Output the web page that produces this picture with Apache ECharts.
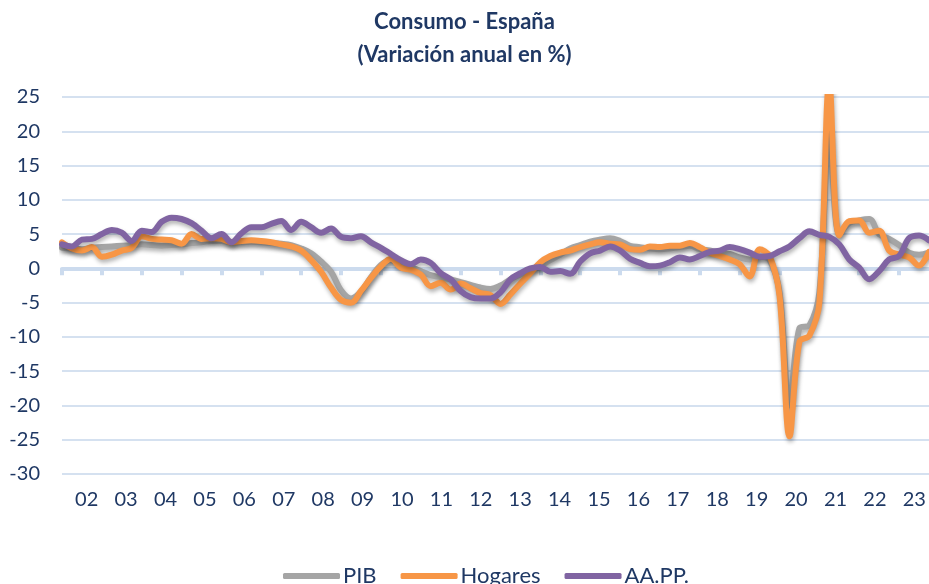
<!DOCTYPE html>
<html>
<head>
<meta charset="utf-8">
<script src="https://cdn.jsdelivr.net/npm/echarts@6/dist/echarts.min.js"></script>
<style>
html,body{margin:0;padding:0;background:#fff;}
#chart{width:929px;height:584px;}
</style>
</head>
<body>
<div id="chart"></div>
<script>
// Tick labels (years) and quarterly categories
const yearLabels = ['02','03','04','05','06','07','08','09','10','11','12','13','14','15','16','17','18','19','20','21','22','23'];
const quarterSuffixes = ['T1','T2','T3','T4'];

// Consumo final - PIB (total)
const pib = [
  3.0, 2.9, 2.8, 3.0, 3.1, 3.2, 3.3, 3.4, 3.5, 3.4, 3.3, 3.4, 3.5, 3.7, 3.8, 4.0,
  4.0, 3.8, 3.8, 3.9, 3.8, 3.7, 3.6, 3.4, 2.9, 2.2, 1.0, -0.5, -3.2, -4.4, -3.4, -1.3,
  0.5, 1.2, 0.6, 0.2, -0.4, -1.0, -1.3, -1.6, -2.0, -2.4, -2.8, -3.0, -2.5, -1.6, -0.9, -0.2,
  0.4, 1.2, 2.0, 2.9, 3.4, 3.9, 4.2, 4.4, 4.0, 3.3, 3.1, 2.9, 2.8, 2.9, 3.1, 3.3,
  2.8, 2.6, 2.3, 2.1, 1.6, 1.3, 1.7, 1.2, -3.5, -20.0, -8.7, -8.3, -3.5, 20.0, 5.0, 6.6,
  7.0, 7.2, 5.0, 4.3, 3.4, 2.3, 2.0, 2.3
];

// Consumo de los hogares
const hogares = [
  3.8, 2.9, 2.6, 3.1, 1.7, 2.0, 2.6, 3.0, 4.7, 4.3, 4.2, 4.1, 3.6, 5.0, 4.3, 4.4,
  4.3, 3.8, 4.0, 4.1, 4.0, 3.8, 3.5, 3.2, 2.6, 1.2, -0.5, -2.8, -4.6, -5.0, -3.3, -1.4,
  0.3, 1.4, 0.1, -0.2, -0.9, -2.6, -2.1, -3.1, -2.2, -2.9, -3.6, -3.9, -5.2, -3.8, -2.2, -0.7,
  0.9, 1.8, 2.3, 2.6, 3.1, 3.5, 3.8, 3.6, 3.5, 2.8, 2.7, 3.2, 3.1, 3.3, 3.3, 3.7,
  3.1, 2.3, 1.8, 1.3, 0.6, -1.2, 2.8, 1.8, -4.0, -24.5, -10.7, -9.8, -5.0, 27.0, 4.8, 6.9,
  7.0, 5.2, 5.5, 2.6, 2.0, 1.6, 0.4, 2.4
];

// Consumo de las AA.PP.
const aapp = [
  3.5, 3.2, 4.2, 4.3, 5.0, 5.6, 5.2, 4.0, 5.5, 5.3, 6.8, 7.4, 7.2, 6.6, 5.5, 4.4,
  5.0, 3.8, 5.1, 6.0, 6.0, 6.5, 6.9, 5.6, 6.8, 6.0, 5.2, 5.8, 4.6, 4.4, 4.7, 3.8,
  3.0, 2.1, 1.2, 0.6, 1.3, 0.8, -0.7, -1.6, -3.3, -4.2, -4.4, -4.4, -3.5, -1.6, -0.7, 0.0,
  0.2, -0.5, -0.4, -0.8, 1.0, 2.2, 2.6, 3.2, 2.6, 1.4, 0.8, 0.3, 0.4, 0.9, 1.6, 1.3,
  1.8, 2.4, 2.6, 3.1, 2.8, 2.3, 1.7, 1.8, 2.5, 3.2, 4.4, 5.4, 4.9, 4.6, 3.5, 1.3,
  0.1, -1.6, -0.4, 1.3, 1.8, 4.4, 4.8, 4.1
];

const quarters = [];
yearLabels.forEach(y => quarterSuffixes.forEach(q => quarters.push(y + q)));

const textColor = '#1F3864';
const fontFam = 'Lato, "Noto Sans", sans-serif';
const gridColor = '#D5E1F0';

const chart = echarts.init(document.getElementById('chart'), null, {renderer: 'canvas'});

function lineSeries(name, data, color) {
  return {
    name: name,
    type: 'line',
    xAxisIndex: 0,
    data: data,
    showSymbol: false,
    symbol: 'none',
    smooth: 0.35,
    clip: true,
    lineStyle: {
      color: color,
      width: 6,
      cap: 'round',
      join: 'round',
      shadowColor: 'rgba(0,0,0,0.30)',
      shadowBlur: 4,
      shadowOffsetX: 1,
      shadowOffsetY: 3
    },
    itemStyle: {color: color},
    emphasis: {disabled: true}
  };
}

chart.setOption({
  animation: false,
  backgroundColor: '#ffffff',
  title: {
    text: 'Consumo - España\n(Variación anual en %)',
    left: 'center',
    top: 0,
    textStyle: {
      color: textColor,
      fontFamily: fontFam,
      fontWeight: 'bold',
      fontSize: 22,
      lineHeight: 33
    }
  },
  legend: {
    left: 278,
    top: 560,
    itemWidth: 57,
    itemHeight: 6,
    itemGap: 24,
    icon: 'roundRect',
    textStyle: {color: textColor, fontFamily: fontFam, fontSize: 22, padding: [0,0,0,-2]},
    data: ['PIB', 'Hogares', 'AA.PP.']
  },
  grid: {left: 62, right: 0, top: 97, bottom: 110, containLabel: false},
  xAxis: [
    {
      type: 'category',
      data: quarters,
      boundaryGap: false,
      position: 'bottom',
      axisLine: {show: true, onZero: true, lineStyle: {color: '#CCDBEE', width: 4}},
      axisTick: {
        show: true,
        length: 7,
        interval: function (idx) { return idx % 4 === 0; },
        lineStyle: {color: '#CCDBEE', width: 4}
      },
      axisLabel: {show: false},
      splitLine: {show: false}
    },
    {
      type: 'category',
      data: yearLabels,
      boundaryGap: true,
      position: 'bottom',
      axisLine: {show: false, onZero: false},
      axisTick: {show: false},
      axisLabel: {
        show: true,
        interval: 0,
        margin: 16,
        padding: [0, 0, 0, 10],
        color: textColor,
        fontFamily: fontFam,
        fontSize: 20
      },
      splitLine: {show: false}
    }
  ],
  yAxis: {
    type: 'value',
    min: -30,
    max: 25,
    interval: 5,
    axisLine: {show: false},
    axisTick: {show: false},
    axisLabel: {
      margin: 22,
      color: textColor,
      fontFamily: fontFam,
      fontSize: 20
    },
    splitLine: {show: true, lineStyle: {color: gridColor, width: 2}}
  },
  series: [
    lineSeries('PIB', pib, '#A5A5A5'),
    lineSeries('Hogares', hogares, '#F79646'),
    lineSeries('AA.PP.', aapp, '#8064A2')
  ]
});
</script>
</body>
</html>
